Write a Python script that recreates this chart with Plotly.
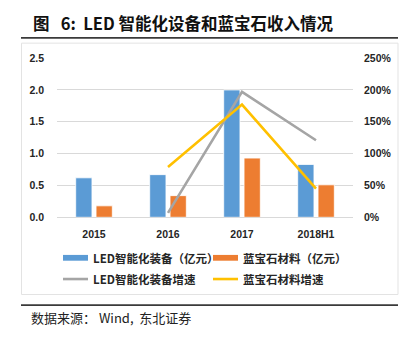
import plotly.graph_objects as go

W, H = 408, 341

years = ["2015", "2016", "2017", "2018H1"]
led_revenue = [0.62, 0.67, 2.00, 0.83]          # 亿元
sapphire_revenue = [0.18, 0.34, 0.93, 0.51]     # 亿元
led_growth = [None, 0.07, 1.97, 1.21]           # 增速
sapphire_growth = [None, 0.79, 1.77, 0.45]      # 增速

left_ticks = [0.0, 0.5, 1.0, 1.5, 2.0, 2.5]
right_ticks = [0.0, 0.5, 1.0, 1.5, 2.0, 2.5]

BLUE = "#5B9BD5"
ORANGE = "#ED7D31"
GRAY = "#A5A5A5"
YELLOW = "#FFC000"
GRID = "#D9D9D9"
TEXT = "#262626"

CJK = "Noto Sans CJK SC"
TICK_FONT = dict(family="Liberation Sans, " + CJK, size=10.5, color=TEXT, weight="bold")
NB = "\u00a0"


def px(x):
    return x / W


def py(y):
    return 1 - y / H


fig = go.Figure()
fig.add_trace(go.Bar(x=years, y=led_revenue, name="LED智能化装备（亿元）",
                     marker=dict(color=BLUE, line=dict(color="white", width=0.8))))
fig.add_trace(go.Bar(x=years, y=sapphire_revenue, name="蓝宝石材料（亿元）",
                     marker=dict(color=ORANGE, line=dict(color="white", width=0.8))))
fig.add_trace(go.Scatter(x=years, y=led_growth, name="LED智能化装备增速", yaxis="y2",
                         mode="lines", line=dict(color=GRAY, width=2.6)))
fig.add_trace(go.Scatter(x=years, y=sapphire_growth, name="蓝宝石材料增速", yaxis="y2",
                         mode="lines", line=dict(color=YELLOW, width=2.6)))

plot_x0, plot_x1 = 57, 353
plot_y0, plot_y1 = 54, 219

shapes = [
    # rule under the heading
    dict(type="line", xref="paper", yref="paper", x0=px(21), x1=px(398), y0=py(33), y1=py(33),
         line=dict(color="#3a3a3a", width=1.6)),
    # chart frame
    dict(type="rect", xref="paper", yref="paper", x0=px(21.5), x1=px(398), y0=py(38.5), y1=py(299),
         line=dict(color="#E3E3E3", width=1)),
    # rule above the source note
    dict(type="line", xref="paper", yref="paper", x0=px(21), x1=px(398), y0=py(310), y1=py(310),
         line=dict(color="#3a3a3a", width=1.6)),
]

# legend keys
legend_rows = [
    (261, [("rect", BLUE, 63, "LED智能化装备（亿元）"), ("rect", ORANGE, 213, "蓝宝石材料（亿元）")]),
    (283, [("line", GRAY, 63, "LED智能化装备增速"), ("line", YELLOW, 213, "蓝宝石材料增速")]),
]
annotations = []
for ycen, items in legend_rows:
    for kind, color, x0, label in items:
        if kind == "rect":
            shapes.append(dict(type="rect", xref="paper", yref="paper",
                               x0=px(x0), x1=px(x0 + 25), y0=py(ycen + 3), y1=py(ycen - 3),
                               fillcolor=color, line=dict(width=0)))
        else:
            shapes.append(dict(type="line", xref="paper", yref="paper",
                               x0=px(x0), x1=px(x0 + 25), y0=py(ycen), y1=py(ycen),
                               line=dict(color=color, width=2.6)))
        annotations.append(dict(text=label, xref="paper", yref="paper", x=px(x0 + 28), y=py(ycen),
                                xanchor="left", yanchor="middle", showarrow=False,
                                font=dict(family=CJK, size=11.5, color=TEXT, weight="bold")))

title_text = "图" + NB * 3 + "6:" + NB * 2 + "LED" + NB + "智能化设备和蓝宝石收入情况"
annotations.append(dict(text=title_text, xref="paper", yref="paper",
                        x=px(31), y=py(18), xanchor="left", yanchor="middle", showarrow=False,
                        font=dict(family=CJK, size=16.5, color="#111111", weight="bold")))
source_text = "数据来源：" + NB + "Wind," + NB * 2 + "东北证券"
annotations.append(dict(text=source_text, xref="paper", yref="paper",
                        x=px(29), y=py(323), xanchor="left", yanchor="middle", showarrow=False,
                        font=dict(family=CJK, size=13, color="#222222")))

fig.update_layout(
    width=W, height=H,
    margin=dict(l=0, r=0, t=0, b=0),
    paper_bgcolor="white", plot_bgcolor="white",
    showlegend=False,
    barmode="group", bargap=0.45, bargroupgap=0.2,
    xaxis=dict(domain=[px(plot_x0), px(plot_x1)], showgrid=False, showline=False, zeroline=False,
               tickfont=TICK_FONT, ticks="", ticklabelstandoff=9),
    yaxis=dict(domain=[py(plot_y1), py(plot_y0)], range=[0, 2.5], tickvals=left_ticks,
               tickformat=".1f", showgrid=True, gridcolor=GRID, gridwidth=1,
               zeroline=True, zerolinecolor=GRID, zerolinewidth=1, showline=False,
               tickfont=TICK_FONT, ticks="", ticklabelstandoff=12),
    yaxis2=dict(overlaying="y", side="right", range=[0, 2.5], tickvals=right_ticks,
                tickformat=".0%", showgrid=False, zeroline=False, showline=False,
                tickfont=TICK_FONT, ticks="", ticklabelstandoff=10),
    shapes=shapes,
    annotations=annotations,
)

fig.write_html("out.html")
